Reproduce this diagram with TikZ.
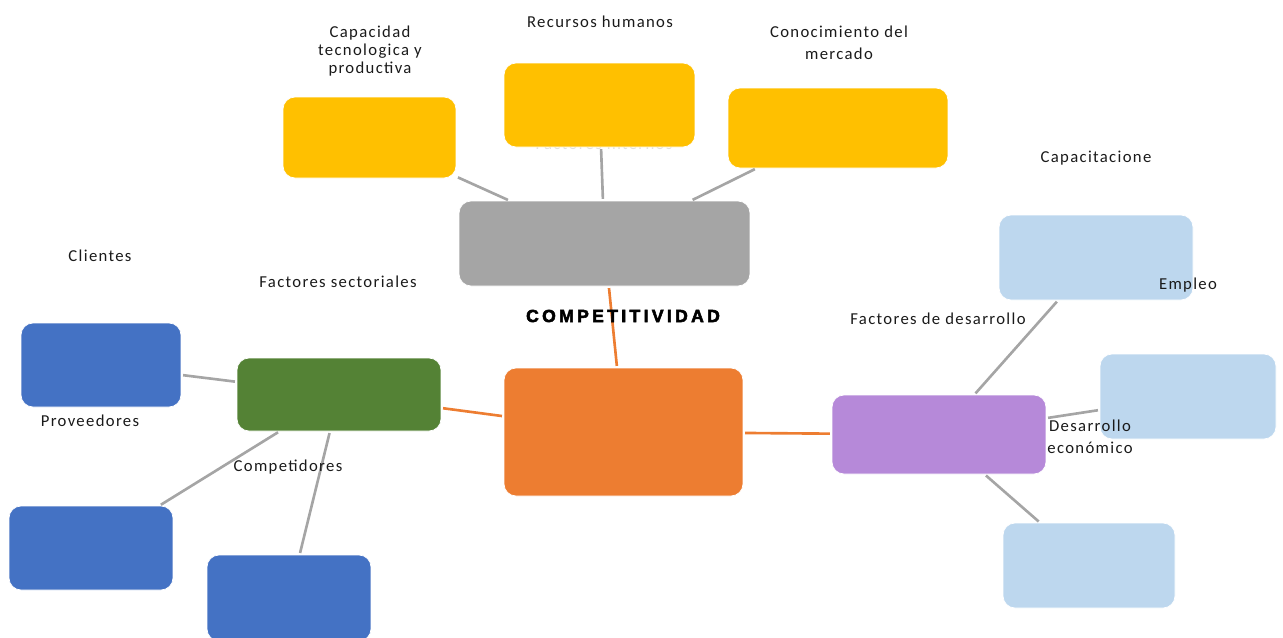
\documentclass[tikz,border=0pt]{standalone}
\usepackage{fontspec}
\setmainfont{Carlito}[LetterSpace=8]
\newfontfamily\heavyfont{Liberation Sans Bold}[FakeBold=3,LetterSpace=19]
\definecolor{amarillo}{HTML}{FFC000}
\definecolor{gris}{HTML}{A5A5A5}
\definecolor{naranja}{HTML}{ED7D31}
\definecolor{verde}{HTML}{548235}
\definecolor{azul}{HTML}{4472C4}
\definecolor{morado}{HTML}{B689D9}
\definecolor{celeste}{HTML}{BDD7EE}
\definecolor{texto}{HTML}{1A1A1A}

\begin{document}
\begin{tikzpicture}[x=0.02cm,y=-0.02cm,
    caja/.style={rounded corners=0.24cm, inner sep=0pt, draw=white, line width=0.4pt},
    enlace/.style={gris, line width=1.5pt, shorten <=1pt, shorten >=1pt},
    enlacen/.style={naranja, line width=1.5pt, shorten <=1pt, shorten >=1pt},
    etiqueta/.style={text=texto, font=\fontsize{9.5}{10.5}\selectfont, inner sep=0pt, align=center}]
        \useasboundingbox (0,0) rectangle (1283,637);
        \node[etiqueta, text=gris!35, anchor=base] (tinternos) at (604,149) {Factores internos};
        \node[caja, fill=amarillo, minimum width=3.46cm, minimum height=1.62cm] (capacidad) at (369.5,137.5) {};
        \node[caja, fill=amarillo, minimum width=3.82cm, minimum height=1.68cm] (recursos) at (599.5,105) {};
        \node[caja, fill=amarillo, minimum width=4.40cm, minimum height=1.60cm] (conocimiento) at (838,128) {};
        \node[caja, fill=gris, minimum width=5.82cm, minimum height=1.70cm] (internos) at (604.5,243.5) {};
        \node[caja, fill=naranja, minimum width=4.78cm, minimum height=2.56cm] (competitividad) at (623.5,432) {};
        \node[caja, fill=verde, minimum width=4.08cm, minimum height=1.46cm] (sectoriales) at (339,394.5) {};
        \node[caja, fill=azul, minimum width=3.20cm, minimum height=1.68cm] (clientes) at (101,365) {};
        \node[caja, fill=azul, minimum width=3.28cm, minimum height=1.68cm] (proveedores) at (91,548) {};
        \node[caja, fill=azul, minimum width=3.28cm, minimum height=1.72cm] (competidores) at (289,598) {};
        \node[caja, fill=morado, minimum width=4.28cm, minimum height=1.58cm] (desarrollo) at (939,434.5) {};
        \node[caja, fill=celeste, minimum width=3.88cm, minimum height=1.70cm] (capacitacion) at (1096,257.5) {};
        \node[caja, fill=celeste, minimum width=3.52cm, minimum height=1.70cm] (empleo) at (1188,396.5) {};
        \node[caja, fill=celeste, minimum width=3.44cm, minimum height=1.70cm] (economico) at (1089,565.5) {};
        \draw[enlace] (capacidad) -- (internos);
        \draw[enlace] (recursos) -- (internos);
        \draw[enlace] (conocimiento) -- (internos);
        \draw[enlacen] (internos) -- (competitividad);
        \draw[enlacen] (sectoriales) -- (competitividad);
        \draw[enlacen] (competitividad) -- (desarrollo);
        \draw[enlace] (sectoriales) -- (clientes);
        \draw[enlace] (sectoriales) -- (proveedores);
        \draw[enlace] (sectoriales) -- (competidores);
        \draw[enlace] (desarrollo) -- (capacitacion);
        \draw[enlace] (desarrollo) -- (empleo);
        \draw[enlace] (desarrollo) -- (economico);
        \node[etiqueta] (tcapacidad) at (370,51) {Capacidad\\tecnologica y\\productiva};
        \node[etiqueta] (trecursos) at (600,22) {Recursos humanos};
        \node[etiqueta, font=\fontsize{9.5}{12.5}\selectfont] (tconocimiento) at (839,43) {Conocimiento del\\mercado};
        \node[etiqueta] (tcapacitacion) at (1096,158) {Capacitacione};
        \node[etiqueta] (tclientes) at (100,256) {Clientes};
        \node[etiqueta] (tsectoriales) at (338,282) {Factores sectoriales};
        \node[etiqueta, font=\heavyfont\fontsize{10}{11}\selectfont, text=black] (tcompetitividad) at (623,316) {COMPETITIVIDAD};
        \node[etiqueta] (tdesarrollo) at (938,319) {Factores de desarrollo};
        \node[etiqueta] (templeo) at (1188,285) {Empleo};
        \node[etiqueta] (tproveedores) at (90,421) {Proveedores};
        \node[etiqueta] (tcompetidores) at (288,467) {Competidores};
        \node[etiqueta, font=\fontsize{9.5}{12.5}\selectfont] (teconomico) at (1090,437) {Desarrollo\\económico};
    \end{tikzpicture}
\end{document}
